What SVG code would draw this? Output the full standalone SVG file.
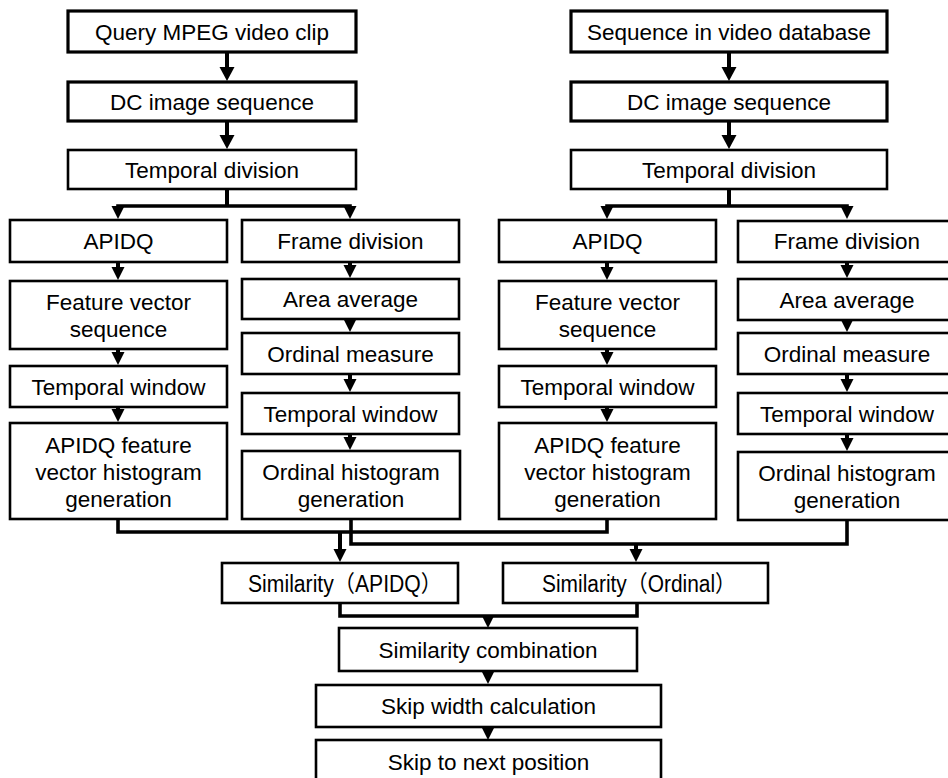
<svg xmlns="http://www.w3.org/2000/svg" xmlns:xlink="http://www.w3.org/1999/xlink" width="948" height="778" viewBox="0 0 948 778">
<style>
.box{fill:#fff;stroke:#000;stroke-width:2.6}
.thick{stroke-width:3.2}
.t{font-family:"Liberation Sans","Noto Sans CJK SC",sans-serif;font-size:22.5px;fill:#000;text-anchor:middle}
.s{font-family:"Liberation Sans","Noto Sans CJK SC",sans-serif;font-size:23px;fill:#000;text-anchor:middle}
.ln{fill:none;stroke:#000;stroke-width:3.6;stroke-linejoin:miter;stroke-linecap:square}
.ln4{fill:none;stroke:#000;stroke-width:4;stroke-linecap:butt}
</style>
<defs>
<path id="ahB" d="M-7.5,-14 L7.5,-14 L0,0 Z" fill="#000"/>
<path id="ahS" d="M-6.5,-13 L6.5,-13 L0,0 Z" fill="#000"/>
</defs>
<rect width="948" height="778" fill="#fff"/>

<g id="connectors">
<!-- left top chain -->
<path class="ln4" d="M227,52 V68 M227,121 V136 M227,189 V206"/>
<use xlink:href="#ahB" x="227" y="81"/>
<use xlink:href="#ahB" x="227" y="149"/>
<path class="ln" d="M118,210 V206 H350 V210"/>
<use xlink:href="#ahS" x="118" y="219"/>
<use xlink:href="#ahS" x="350" y="219"/>
<!-- right top chain -->
<path class="ln4" d="M729,52 V68 M729,121 V136 M729,189 V206"/>
<use xlink:href="#ahB" x="729" y="81"/>
<use xlink:href="#ahB" x="729" y="149"/>
<path class="ln" d="M607,210 V206 H847 V210"/>
<use xlink:href="#ahS" x="607" y="219"/>
<use xlink:href="#ahS" x="847" y="219"/>
<!-- left APIDQ column -->
<path class="ln4" d="M118,262 V268 M118,349 V354 M118,407 V411"/>
<use xlink:href="#ahS" x="118" y="280"/>
<use xlink:href="#ahS" x="118" y="365"/>
<use xlink:href="#ahS" x="118" y="422"/>
<!-- left frame column -->
<path class="ln4" d="M350,262 V267 M350,319 V322 M350,374 V381 M350,434 V439"/>
<use xlink:href="#ahS" x="350" y="278"/>
<use xlink:href="#ahS" x="350" y="332"/>
<use xlink:href="#ahS" x="350" y="392"/>
<use xlink:href="#ahS" x="350" y="450"/>
<!-- right APIDQ column -->
<path class="ln4" d="M607,262 V268 M607,349 V354 M607,407 V411"/>
<use xlink:href="#ahS" x="607" y="280"/>
<use xlink:href="#ahS" x="607" y="365"/>
<use xlink:href="#ahS" x="607" y="422"/>
<!-- right frame column -->
<path class="ln4" d="M847,262 V267 M847,320 V322 M847,374 V381 M847,434 V439"/>
<use xlink:href="#ahS" x="847" y="278"/>
<use xlink:href="#ahS" x="847" y="332"/>
<use xlink:href="#ahS" x="847" y="392"/>
<use xlink:href="#ahS" x="847" y="451"/>
<!-- merge APIDQ histograms -->
<path class="ln" d="M118,519 V532 H607 V519"/>
<path class="ln4" d="M340,532 V549"/>
<use xlink:href="#ahS" x="340" y="562"/>
<!-- merge ordinal histograms -->
<path class="ln" d="M351,519 V544 H847 V520"/>
<path class="ln4" d="M636,544 V549"/>
<use xlink:href="#ahS" x="636" y="562"/>
<!-- merge similarities -->
<path class="ln" d="M340,603 V616 H637 V603"/>
<use xlink:href="#ahS" x="488" y="628"/>
<!-- bottom chain -->
<use xlink:href="#ahS" x="488" y="684"/>
<use xlink:href="#ahS" x="488" y="740"/>
</g>

<g id="query">
<rect class="box thick" x="68" y="11" width="288" height="41"/>
<text class="t" x="212" y="40">Query MPEG video clip</text>
</g>
<g id="dc-left">
<rect class="box thick" x="68" y="82" width="288" height="39"/>
<text class="t" x="212" y="110">DC image sequence</text>
</g>
<g id="temporal-division-left">
<rect class="box" x="68" y="150" width="288" height="39"/>
<text class="t" x="212" y="178">Temporal division</text>
</g>

<g id="database">
<rect class="box thick" x="571" y="11" width="316" height="41"/>
<text class="t" x="729" y="40">Sequence in video database</text>
</g>
<g id="dc-right">
<rect class="box thick" x="571" y="82" width="316" height="39"/>
<text class="t" x="729" y="110">DC image sequence</text>
</g>
<g id="temporal-division-right">
<rect class="box" x="571" y="150" width="316" height="39"/>
<text class="t" x="729" y="178">Temporal division</text>
</g>

<!-- left APIDQ column -->
<g id="apidq-left">
<rect class="box" x="10" y="220" width="217" height="42"/>
<text class="t" x="118.5" y="249">APIDQ</text>
</g>
<g id="fvs-left">
<rect class="box" x="10" y="281" width="217" height="68"/>
<text class="t" x="118.5" y="310">Feature vector</text>
<text class="t" x="118.5" y="337">sequence</text>
</g>
<g id="tw-a-left">
<rect class="box" x="10" y="366" width="217" height="41"/>
<text class="t" x="118.5" y="394.5">Temporal window</text>
</g>
<g id="apidq-hist-left">
<rect class="box" x="10" y="423" width="217" height="96"/>
<text class="t" x="118.5" y="452.5">APIDQ feature</text>
<text class="t" x="118.5" y="479.5">vector histogram</text>
<text class="t" x="118.5" y="506.5">generation</text>
</g>

<!-- left frame column -->
<g id="frame-left">
<rect class="box" x="242" y="220" width="217" height="42"/>
<text class="t" x="350.5" y="249">Frame division</text>
</g>
<g id="area-left">
<rect class="box" x="242" y="279" width="217" height="40"/>
<text class="t" x="350.5" y="307">Area average</text>
</g>
<g id="ordinal-left">
<rect class="box" x="242" y="333" width="217" height="41"/>
<text class="t" x="350.5" y="361.5">Ordinal measure</text>
</g>
<g id="tw-o-left">
<rect class="box" x="242" y="393" width="217" height="41"/>
<text class="t" x="350.5" y="421.5">Temporal window</text>
</g>
<g id="ordinal-hist-left">
<rect class="box" x="242" y="451" width="218" height="68"/>
<text class="t" x="351" y="480">Ordinal histogram</text>
<text class="t" x="351" y="507">generation</text>
</g>

<!-- right APIDQ column -->
<g id="apidq-right">
<rect class="box" x="499" y="220" width="217" height="42"/>
<text class="t" x="607.5" y="249">APIDQ</text>
</g>
<g id="fvs-right">
<rect class="box" x="499" y="281" width="217" height="68"/>
<text class="t" x="607.5" y="310">Feature vector</text>
<text class="t" x="607.5" y="337">sequence</text>
</g>
<g id="tw-a-right">
<rect class="box" x="499" y="366" width="217" height="41"/>
<text class="t" x="607.5" y="394.5">Temporal window</text>
</g>
<g id="apidq-hist-right">
<rect class="box" x="499" y="423" width="217" height="96"/>
<text class="t" x="607.5" y="452.5">APIDQ feature</text>
<text class="t" x="607.5" y="479.5">vector histogram</text>
<text class="t" x="607.5" y="506.5">generation</text>
</g>

<!-- right frame column -->
<g id="frame-right">
<rect class="box" x="738" y="221" width="218" height="41"/>
<text class="t" x="847" y="249">Frame division</text>
</g>
<g id="area-right">
<rect class="box" x="738" y="279" width="218" height="41"/>
<text class="t" x="847" y="307.5">Area average</text>
</g>
<g id="ordinal-right">
<rect class="box" x="738" y="333" width="218" height="41"/>
<text class="t" x="847" y="361.5">Ordinal measure</text>
</g>
<g id="tw-o-right">
<rect class="box" x="738" y="393" width="218" height="41"/>
<text class="t" x="847" y="421.5">Temporal window</text>
</g>
<g id="ordinal-hist-right">
<rect class="box" x="738" y="452" width="218" height="68"/>
<text class="t" x="847" y="480.5">Ordinal histogram</text>
<text class="t" x="847" y="507.5">generation</text>
</g>

<!-- bottom -->
<g id="sim-apidq">
<rect class="box" x="222" y="563" width="236" height="40"/>
<text class="s" x="345" y="592" textLength="194" lengthAdjust="spacingAndGlyphs">Similarity（APIDQ）</text>
</g>
<g id="sim-ordinal">
<rect class="box" x="503" y="563" width="265" height="40"/>
<text class="s" x="639" y="592" textLength="194" lengthAdjust="spacingAndGlyphs">Similarity（Ordinal）</text>
</g>
<g id="sim-combination">
<rect class="box" x="339" y="628" width="298" height="43"/>
<text class="t" x="488" y="657.5">Similarity combination</text>
</g>
<g id="skip-width">
<rect class="box" x="316" y="685" width="345" height="42"/>
<text class="t" x="488.5" y="714">Skip width calculation</text>
</g>
<g id="skip-next">
<rect class="box" x="316" y="740" width="345" height="44"/>
<text class="t" x="488.5" y="770">Skip to next position</text>
</g>
</svg>
